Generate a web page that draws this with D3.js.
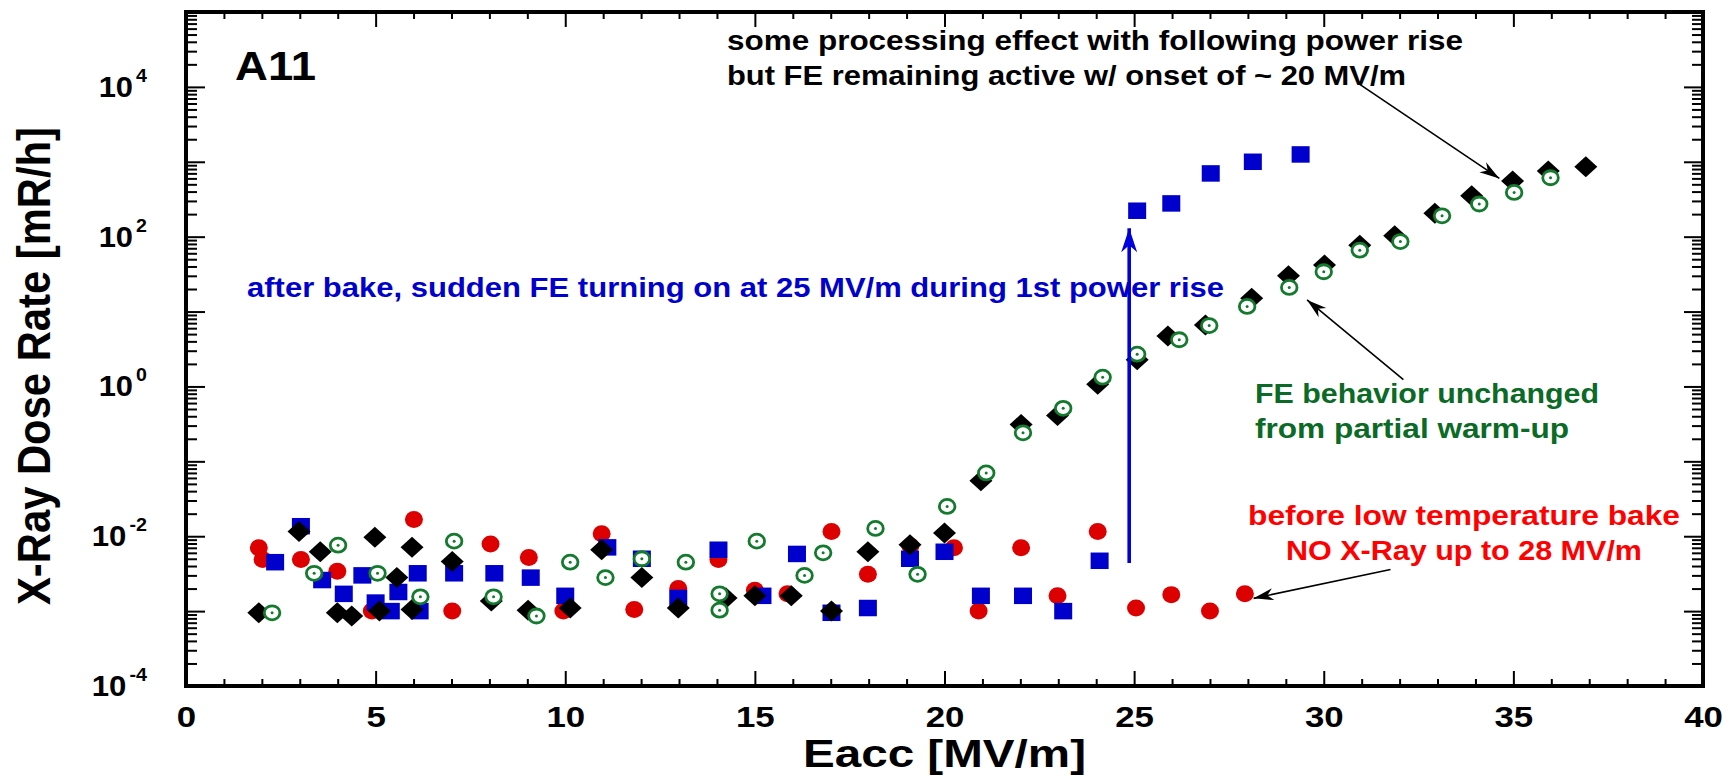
<!DOCTYPE html>
<html>
<head>
<meta charset="utf-8">
<title>A11 X-ray dose rate</title>
<script src="https://cdn.jsdelivr.net/npm/d3@7"></script>
<style>
  html, body { margin: 0; padding: 0; background: #fff; }
  svg { display: block; font-family: Arial, "Liberation Sans", Helvetica, sans-serif; }
</style>
</head>
<body>
<svg id="chart" width="1729" height="776"></svg>
<script>
/* A11 cavity — X-ray dose rate vs Eacc, D3 log-scale scatter */

// ============================================================
// Data
// ============================================================

// before low temperature bake (red dots)
const redX = [1.92, 2.02, 3.03, 3.99, 4.9, 6.01, 7.02, 8.03, 9.04, 9.95, 10.96, 11.82, 12.98, 14.04,
  15.0, 15.86, 17.02, 17.98, 19.1, 20.25, 20.9, 22.02, 22.98, 24.04, 25.05, 25.98, 27.0, 27.92];
const redY = [0.0070, 0.0049, 0.0049, 0.0034, 0.0010, 0.0167, 0.0010, 0.0079, 0.0052, 0.0010, 0.0108, 0.00105, 0.0020, 0.0049,
  0.0019, 0.0017, 0.0116, 0.0031, 0.0074, 0.0070, 0.0010, 0.0070, 0.0016, 0.0116, 0.0011, 0.00166, 0.0010, 0.0017];

// after bake, 1st power rise (blue squares)
const blueX = [2.35, 3.03, 3.59, 4.16, 4.65, 5.0, 5.4, 5.6, 6.11, 6.16, 7.07, 8.13, 9.09, 10.0, 11.11, 12.02,
  12.98, 14.04, 15.2, 16.11, 17.02, 17.98, 19.09, 20.0, 20.96, 22.07, 23.13, 24.09, 25.08, 25.98, 27.02, 28.13, 29.39];
const blueY = [0.0045, 0.0136, 0.0026, 0.0017, 0.0030, 0.0013, 0.0010, 0.0018, 0.0032, 0.0010, 0.0032, 0.0032, 0.0028, 0.0016, 0.0071, 0.0050,
  0.0015, 0.0066, 0.0016, 0.0058, 0.00095, 0.0011, 0.0050, 0.0062, 0.0016, 0.0016, 0.0010, 0.0047, 222, 278, 699, 1000, 1253];

// following power rise (black diamonds)
const blackX = [1.92, 2.98, 3.54, 3.99, 4.37, 4.98, 5.1, 5.56, 5.96, 5.96, 7.02, 8.05, 9.02, 10.13, 10.96, 12.02,
  12.98, 14.24, 15.0, 15.96, 17.02, 17.98, 19.09, 20.0, 20.96, 22.02, 22.98, 24.04, 25.08, 25.89, 26.88,
  28.1, 29.07, 30.02, 30.95, 31.87, 32.93, 33.9, 34.98, 35.92, 36.91];
const blackY = [0.00095, 0.0116, 0.0062, 0.00095, 0.00086, 0.0097, 0.0010, 0.0028, 0.0071, 0.00105, 0.0046, 0.00136, 0.00103, 0.0011, 0.0066, 0.0028,
  0.0011, 0.0015, 0.0016, 0.0016, 0.0010, 0.0062, 0.0077, 0.011, 0.055, 0.31, 0.41, 1.07, 2.27, 4.7, 6.6,
  15, 30, 42, 77, 103, 205, 352, 552, 752, 858];

// after partial warm-up (green open circles)
const greenX = [2.27, 3.38, 4.01, 5.05, 6.18, 7.07, 8.11, 9.24, 10.13, 11.06, 12.02, 13.18, 14.07, 14.07, 15.05, 16.31,
  16.8, 18.18, 19.29, 20.07, 21.1, 22.07, 23.13, 24.17, 25.08, 26.19, 26.98, 27.98, 29.09, 30.0, 30.95,
  32.02, 33.12, 34.1, 35.02, 35.98];
const greenY = [0.00095, 0.0032, 0.0076, 0.0032, 0.00155, 0.0086, 0.00155, 0.00086, 0.0045, 0.0028, 0.0050, 0.0045, 0.0017, 0.00103, 0.0086, 0.0030,
  0.0060, 0.0127, 0.0031, 0.025, 0.07, 0.24, 0.51, 1.33, 2.7, 4.2, 6.5, 11.7, 21, 34, 66,
  86, 190, 273, 390, 612];

const xMajor = [0, 5, 10, 15, 20, 25, 30, 35, 40];
const yLabelExp = [-4, -2, 0, 2, 4];

// ============================================================
// Layout
// ============================================================

const PLOT = { left: 186, right: 1703, top: 12, bottom: 686 };
const svg = d3.select('#chart');

const x = d3.scaleLinear().domain([0, 40]).range([PLOT.left, PLOT.right]);
const y = d3.scaleLog().domain([1e-4, 1e5]).range([PLOT.bottom, PLOT.top]);

// reference glyphs are wider than Arial, so stretch text to fit
function stretch(sel, k) {
  sel.each(function () {
    const w = this.getComputedTextLength();
    d3.select(this).attr('textLength', w * k).attr('lengthAdjust', 'spacingAndGlyphs');
  });
}

// ============================================================
// Axes (ticks point inward on all four sides)
// ============================================================

const gAx = svg.append('g');
function addAxis(axis, tx, ty) {
  const g = gAx.append('g').attr('transform', `translate(${tx},${ty})`).call(axis);
  g.select('.domain').remove();
  g.selectAll('.tick line').attr('stroke', '#000').attr('stroke-width', 2);
  return g;
}

const xMinor = d3.range(0, 41).filter(v => v % 5 !== 0);
const yMajor = d3.range(-4, 6).map(k => Math.pow(10, k));
const yMinor = [];
for (let k = -4; k < 5; k++) for (let m = 2; m <= 9; m++) yMinor.push(m * Math.pow(10, k));

addAxis(d3.axisBottom(x).tickValues(xMinor).tickSize(-7).tickFormat(''), 0, PLOT.bottom);
addAxis(d3.axisTop(x).tickValues(xMinor).tickSize(-7).tickFormat(''), 0, PLOT.top);
addAxis(d3.axisTop(x).tickValues(xMajor).tickSize(-15).tickFormat(''), 0, PLOT.top);
const gxb = addAxis(d3.axisBottom(x).tickValues(xMajor).tickSize(-15).tickFormat(d3.format('d')), 0, PLOT.bottom);
gxb.selectAll('.tick text')
  .attr('y', 41).attr('dy', 0)
  .attr('fill', '#000').attr('font-size', 29).attr('font-weight', 'bold')
  .attr('font-family', 'Arial, "Liberation Sans", sans-serif')
  .call(stretch, 1.2);

addAxis(d3.axisLeft(y).tickValues(yMinor).tickSize(-11).tickFormat(''), PLOT.left, 0);
addAxis(d3.axisLeft(y).tickValues(yMajor).tickSize(-19).tickFormat(''), PLOT.left, 0);
addAxis(d3.axisRight(y).tickValues(yMinor).tickSize(-11).tickFormat(''), PLOT.right, 0);
addAxis(d3.axisRight(y).tickValues(yMajor).tickSize(-19).tickFormat(''), PLOT.right, 0);

// y labels: 10 with superscript exponent
const yl = svg.append('g').selectAll('text')
  .data(yLabelExp)
  .join('text')
  .attr('x', PLOT.left - 39)
  .attr('y', d => y(Math.pow(10, d)) + 10)
  .attr('text-anchor', 'end')
  .attr('font-size', 30).attr('font-weight', 'bold');
yl.append('tspan').text('10');
yl.append('tspan').attr('dx', 3).attr('dy', -15).attr('font-size', 19).text(d => d);
yl.call(stretch, 1.1);

// frame
svg.append('rect')
  .attr('x', PLOT.left).attr('y', PLOT.top)
  .attr('width', PLOT.right - PLOT.left).attr('height', PLOT.bottom - PLOT.top)
  .attr('fill', 'none').attr('stroke', '#000').attr('stroke-width', 4);

// axis titles
svg.append('text')
  .attr('transform', `translate(${(PLOT.left + PLOT.right) / 2},767)`)
  .attr('text-anchor', 'middle').attr('font-size', 38).attr('font-weight', 'bold')
  .text('Eacc [MV/m]')
  .attr('textLength', 283).attr('lengthAdjust', 'spacingAndGlyphs');

svg.append('text')
  .attr('transform', 'translate(50,366) rotate(-90) scale(1,1.15)')
  .attr('text-anchor', 'middle').attr('font-size', 40).attr('font-weight', 'bold')
  .text('X-Ray Dose Rate [mR/h]')
  .attr('textLength', 478).attr('lengthAdjust', 'spacingAndGlyphs');

// ============================================================
// Markers (draw order: red, blue, black, green)
// ============================================================

const gPts = svg.append('g');

gPts.selectAll('.red').data(d3.zip(redX, redY)).join('ellipse')
  .attr('cx', d => x(d[0])).attr('cy', d => y(d[1]))
  .attr('rx', 9).attr('ry', 8.5).attr('fill', '#dd0000');

gPts.selectAll('.blue').data(d3.zip(blueX, blueY)).join('rect')
  .attr('x', d => x(d[0]) - 9).attr('y', d => y(d[1]) - 8.25)
  .attr('width', 18).attr('height', 16.5).attr('fill', '#0000cc');

gPts.selectAll('.black').data(d3.zip(blackX, blackY)).join('path')
  .attr('transform', d => `translate(${x(d[0])},${y(d[1])})`)
  .attr('d', 'M0,-10.5L11.5,0L0,10.5L-11.5,0Z').attr('fill', '#000');

const gGreen = gPts.selectAll('.green').data(d3.zip(greenX, greenY)).join('g')
  .attr('transform', d => `translate(${x(d[0])},${y(d[1])})`);
gGreen.append('ellipse').attr('rx', 7.8).attr('ry', 7)
  .attr('fill', '#fff').attr('stroke', '#137a2e').attr('stroke-width', 2.8);
gGreen.append('circle').attr('r', 1.5).attr('fill', '#137a2e');

// ============================================================
// Annotations
// ============================================================

const defs = svg.append('defs');
defs.append('marker').attr('id', 'head-black')
  .attr('markerUnits', 'userSpaceOnUse').attr('viewBox', '-22 -8 24 16')
  .attr('refX', 0).attr('refY', 0).attr('markerWidth', 24).attr('markerHeight', 16)
  .attr('orient', 'auto')
  .append('path').attr('d', 'M0,0L-20,-6L-14,0L-20,6Z').attr('fill', '#000');
defs.append('marker').attr('id', 'head-blue')
  .attr('markerUnits', 'userSpaceOnUse').attr('viewBox', '-26 -10 28 20')
  .attr('refX', 0).attr('refY', 0).attr('markerWidth', 28).attr('markerHeight', 20)
  .attr('orient', 'auto')
  .append('path').attr('d', 'M0,0L-24,-8L-17,0L-24,8Z').attr('fill', '#0000dd');

const arrows = [
  { from: [30.93, 11000], to: [34.63, 600] },
  { from: [32.1, 1.23], to: [29.56, 14.3] },
  { from: [31.76, 0.0036], to: [28.15, 0.00148] },
];
svg.append('g').selectAll('line').data(arrows).join('line')
  .attr('x1', d => x(d.from[0])).attr('y1', d => y(d.from[1]))
  .attr('x2', d => x(d.to[0])).attr('y2', d => y(d.to[1]))
  .attr('stroke', '#000').attr('stroke-width', 1.6)
  .attr('marker-end', 'url(#head-black)');

// blue: FE switching on at 25 MV/m
svg.append('line')
  .attr('x1', x(24.87)).attr('y1', y(0.0044))
  .attr('x2', x(24.87)).attr('y2', y(130))
  .attr('stroke', '#0000dd').attr('stroke-width', 3.6)
  .attr('marker-end', 'url(#head-blue)');

const notes = [
  { lines: ['A11'], x: 235, y: 80, size: 40, color: '#000', widths: [81], anchor: 'start' },
  { lines: ['some processing effect with following power rise', 'but FE remaining active w/ onset of ~ 20 MV/m'],
    x: 727, y: 50, size: 27, color: '#000', widths: [736, 679], anchor: 'start' },
  { lines: ['after bake, sudden FE turning on at 25 MV/m during 1st power rise'],
    x: 247, y: 297, size: 27, color: '#0000cc', widths: [977], anchor: 'start' },
  { lines: ['FE behavior unchanged', 'from partial warm-up'],
    x: 1255, y: 403, size: 27, color: '#0a6a26', widths: [344, 314], anchor: 'start' },
  { lines: ['before low temperature bake', 'NO X-Ray up to 28 MV/m'],
    x: 1464, y: 525, size: 27, color: '#ff0000', widths: [432, 356], anchor: 'middle' },
];

notes.forEach(n => {
  n.lines.forEach((txt, i) => {
    svg.append('text')
      .attr('x', n.x).attr('y', n.y + i * 35)
      .attr('text-anchor', n.anchor)
      .attr('font-size', n.size).attr('font-weight', 'bold')
      .attr('fill', n.color)
      .attr('textLength', n.widths[i]).attr('lengthAdjust', 'spacingAndGlyphs')
      .text(txt);
  });
});
</script>
</body>
</html>
